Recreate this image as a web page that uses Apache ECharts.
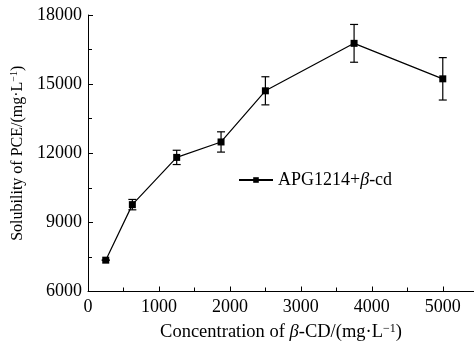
<!DOCTYPE html>
<html>
<head>
<meta charset="utf-8">
<script src="https://cdn.jsdelivr.net/npm/echarts@6/dist/echarts.min.js"></script>
<style>html,body{margin:0;padding:0;background:#fff}#c{width:474px;height:347px}</style>
</head>
<body>
<div id="c"></div>
<script>
var concentration = [250, 625, 1250, 1875, 2500, 3750, 5000];
var solubility = [7360, 9770, 11820, 12490, 14710, 16770, 15230];
var errorValues = [0, 225, 310, 440, 610, 820, 920];
var seriesName = 'APG1214+β-cd';

var FONT = '"Liberation Serif", "Times New Roman", serif';
var chart = echarts.init(document.getElementById('c'), null, {renderer: 'canvas'});

var lineData = concentration.map(function (c, i) { return [c, solubility[i]]; });
var errData = concentration.map(function (c, i) { return [c, solubility[i] - errorValues[i], solubility[i] + errorValues[i]]; });

function nameRich(fs) {
  return {
    a: {fontFamily: FONT, fontSize: fs, color: '#000'},
    i: {fontFamily: FONT, fontSize: fs, fontStyle: 'italic', color: '#000'},
    s: {fontFamily: FONT, fontSize: Math.round(fs * 0.65), color: '#000', verticalAlign: 'top', padding: [0, 0, 8, 0]}
  };
}

chart.setOption({
  animation: false,
  backgroundColor: '#fff',
  grid: {left: 88, right: 0, top: 15, bottom: 50, containLabel: false},
  legend: {
    left: 233, top: 166,
    data: [seriesName],
    itemWidth: 34, itemHeight: 7, itemGap: 4,
    textStyle: {fontFamily: FONT, fontSize: 18, color: '#000',
      rich: {a: {fontFamily: FONT, fontSize: 18, color: '#000'}, i: {fontFamily: FONT, fontSize: 18, fontStyle: 'italic', color: '#000'}}},
    formatter: function () { return '{a|APG1214+}{i|β}{a|-cd}'; }
  },
  xAxis: {
    type: 'value', min: 0, max: 5440, interval: 1000,
    name: '{a|Concentration of }{i|β}{a|-CD/(mg·L}{s|−1}{a|)}',
    nameLocation: 'middle', nameGap: 31,
    nameTextStyle: {rich: nameRich(18.5)},
    axisLine: {lineStyle: {color: '#000', width: 1}},
    axisTick: {inside: true, length: 5, lineStyle: {color: '#000'}},
    minorTick: {show: true, splitNumber: 2, length: 4, lineStyle: {color: '#000'}},
    splitLine: {show: false},
    axisLabel: {fontFamily: FONT, fontSize: 18, color: '#000', margin: 7, showMaxLabel: false,
      formatter: function (v) { return v % 1000 === 0 ? String(v) : ''; }}
  },
  yAxis: {
    type: 'value', min: 6000, max: 18000, interval: 3000,
    name: '{a|Solubility of PCE/(mg·L}{s|−1}{a|)}',
    nameLocation: 'middle', nameGap: 52,
    nameTextStyle: {rich: nameRich(16)},
    axisLine: {show: true, lineStyle: {color: '#000', width: 1}},
    axisTick: {show: true, inside: true, length: 5, lineStyle: {color: '#000'}},
    minorTick: {show: true, splitNumber: 2, length: 4, lineStyle: {color: '#000'}},
    splitLine: {show: false},
    axisLabel: {fontFamily: FONT, fontSize: 18, color: '#000', margin: 6,
      formatter: function (v) { return String(v); }}
  },
  series: [
    {
      name: seriesName, type: 'line', data: lineData,
      symbol: 'rect', symbolSize: 7,
      itemStyle: {color: '#000'},
      lineStyle: {color: '#000', width: 1.2},
      z: 3
    },
    {
      type: 'custom', data: errData, z: 2,
      renderItem: function (params, api) {
        var x = api.value(0);
        var lo = api.coord([x, api.value(1)]);
        var hi = api.coord([x, api.value(2)]);
        var w = 4;
        var style = {stroke: '#000', lineWidth: 1.2};
        return {type: 'group', children: [
          {type: 'line', shape: {x1: lo[0], y1: lo[1], x2: hi[0], y2: hi[1]}, style: style},
          {type: 'line', shape: {x1: hi[0] - w, y1: hi[1], x2: hi[0] + w, y2: hi[1]}, style: style},
          {type: 'line', shape: {x1: lo[0] - w, y1: lo[1], x2: lo[0] + w, y2: lo[1]}, style: style}
        ]};
      }
    }
  ]
});
</script>
</body>
</html>
